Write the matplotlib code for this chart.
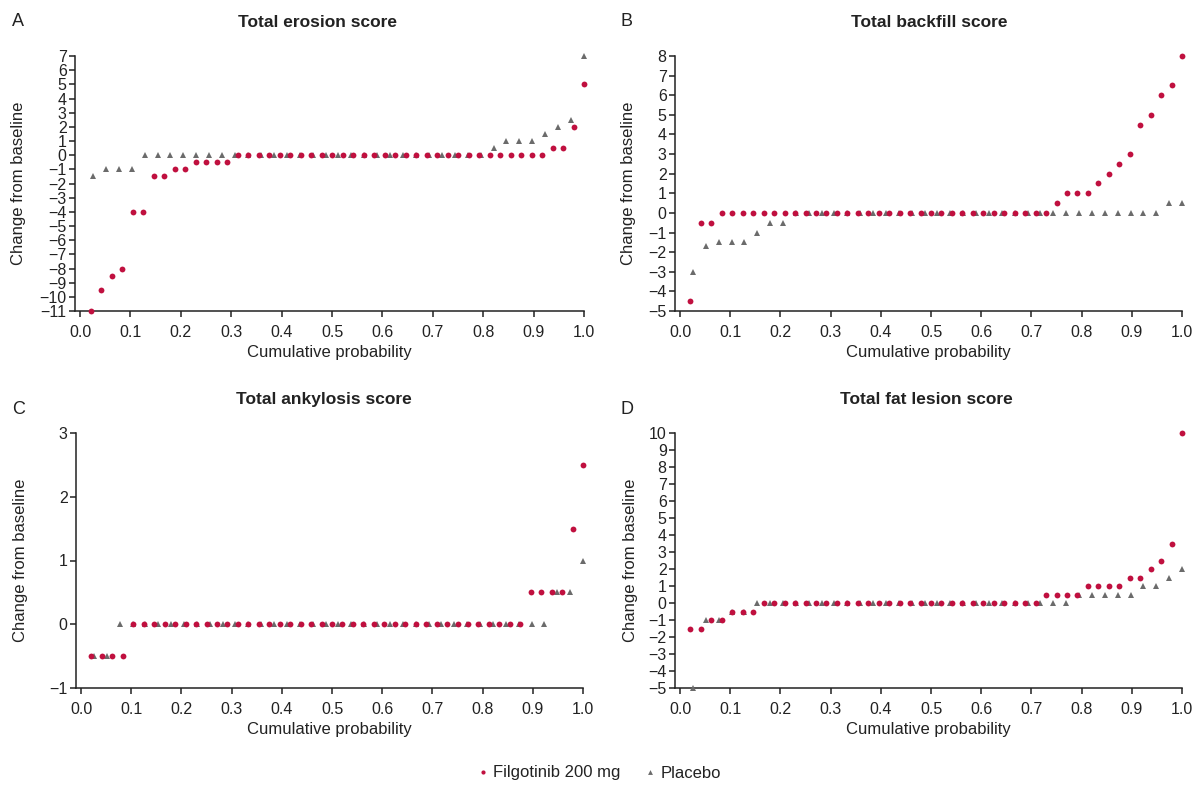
import numpy as np
import matplotlib
matplotlib.use("Agg")
import matplotlib.pyplot as plt
from matplotlib.lines import Line2D

plt.rcParams["font.family"] = ["Liberation Sans", "DejaVu Sans"]

# sorted change-from-baseline values per patient (ECDF plots)
erosion_filgo = [-11, -9.5, -8.5, -8, -4, -4, -1.5, -1.5, -1, -1, -0.5, -0.5, -0.5, -0.5] + [0] * 30 + [0.5, 0.5, 2, 5]
erosion_placebo = [-1.5, -1, -1, -1] + [0] * 27 + [0.5, 1, 1, 1, 1.5, 2, 2.5, 7]

backfill_filgo = [-4.5, -0.5, -0.5] + [0] * 32 + [0.5, 1, 1, 1, 1.5, 2, 2.5, 3, 4.5, 5, 6, 6.5, 8]
backfill_placebo = [-3, -1.7, -1.5, -1.5, -1.5, -1, -0.5, -0.5] + [0] * 29 + [0.5, 0.5]

ankylosis_filgo = [-0.5] * 4 + [0] * 38 + [0.5, 0.5, 0.5, 0.5, 1.5, 2.5]
ankylosis_placebo = [-0.5, -0.5] + [0] * 34 + [0.5, 0.5, 1]

fat_filgo = [-1.5, -1.5, -1, -1, -0.5, -0.5, -0.5] + [0] * 27 + [0.5] * 4 + [1] * 4 + [1.5, 1.5, 2, 2.5, 3.5, 10]
fat_placebo = [-5, -1, -1, -0.5, -0.5] + [0] * 25 + [0.5] * 5 + [1, 1, 1.5, 2]

panels = [
    ("A", "Total erosion score", erosion_filgo, erosion_placebo, (-11, 7)),
    ("B", "Total backfill score", backfill_filgo, backfill_placebo, (-5, 8)),
    ("C", "Total ankylosis score", ankylosis_filgo, ankylosis_placebo, (-1, 3)),
    ("D", "Total fat lesion score", fat_filgo, fat_placebo, (-5, 10)),
]

RED = "#C0103F"
GREY = "#6B6B6B"
TXT = "#222222"

W, H = 1199, 785
fig = plt.figure(figsize=(W / 100, H / 100), dpi=100)

# axes boxes in pixels: left, top, right, bottom
boxes = [(75, 56, 584, 311), (675, 56, 1182, 311), (76, 433, 583, 688), (675, 433, 1182, 688)]
letter_pos = [(12, 21), (620, 21), (12, 409), (620, 409)]
ylabel_px = [26, 636, 28, 638]  # right edge of the rotated y label
title_px = [318, 929, 324, 926]  # title centre

for (letter, title, filgo, placebo, ylim), box, lp, yl, tx in zip(panels, boxes, letter_pos, ylabel_px, title_px):
    l, t, r, b = box
    ax = fig.add_axes([l / W, 1 - b / H, (r - l) / W, (b - t) / H])
    for vals, color, marker, ms in [(placebo, GREY, "^", 4.6), (filgo, RED, "o", 4.2)]:
        y = np.sort(np.array(vals, dtype=float))
        x = np.arange(1, len(y) + 1) / len(y)
        ax.plot(x, y, linestyle="none", marker=marker, color=color, markersize=ms,
                markeredgewidth=0, clip_on=False, zorder=3)
    ax.set_xlim(-0.01, 1.0)
    ax.set_ylim(*ylim)
    ax.set_xticks(np.arange(0, 1.01, 0.1))
    ax.set_xticklabels([f"{v:.1f}" for v in np.arange(0, 1.01, 0.1)])
    ax.set_yticks(np.arange(ylim[0], ylim[1] + 1, 1))
    for s in ["top", "right"]:
        ax.spines[s].set_visible(False)
    for s in ["left", "bottom"]:
        ax.spines[s].set_linewidth(1.1)
        ax.spines[s].set_color("#222222")
    ax.tick_params(direction="out", length=4, width=1.1, color="#222222",
                   labelsize=11.5, labelcolor=TXT)
    ax.tick_params(axis="x", pad=6)
    ax.tick_params(axis="y", pad=2)
    ax.set_xlabel("Cumulative probability", fontsize=12, color=TXT, labelpad=4)
    ax.set_ylabel("Change from baseline", fontsize=12, color=TXT)
    ax.yaxis.set_label_coords((yl - l) / (r - l), 0.5)
    ax.set_title(title, fontsize=12.5, fontweight="bold", color=TXT, pad=21,
                 x=(tx - l) / (r - l))
    fig.text(lp[0] / W, 1 - lp[1] / H, letter, fontsize=13, color=TXT, va="center", ha="left")

handles = [
    Line2D([], [], linestyle="none", marker="o", color=RED, markersize=3, markeredgewidth=0),
    Line2D([], [], linestyle="none", marker="^", color=GREY, markersize=3.5, markeredgewidth=0),
]
fig.legend(handles, ["Filgotinib 200 mg", "Placebo"], loc="center", bbox_to_anchor=(0.5, 1 - 773 / H),
           ncol=2, frameon=False, fontsize=12, handlelength=0.6, handletextpad=0.3, columnspacing=1.5,
           labelcolor=TXT)

fig.savefig("out.png", dpi=100)
